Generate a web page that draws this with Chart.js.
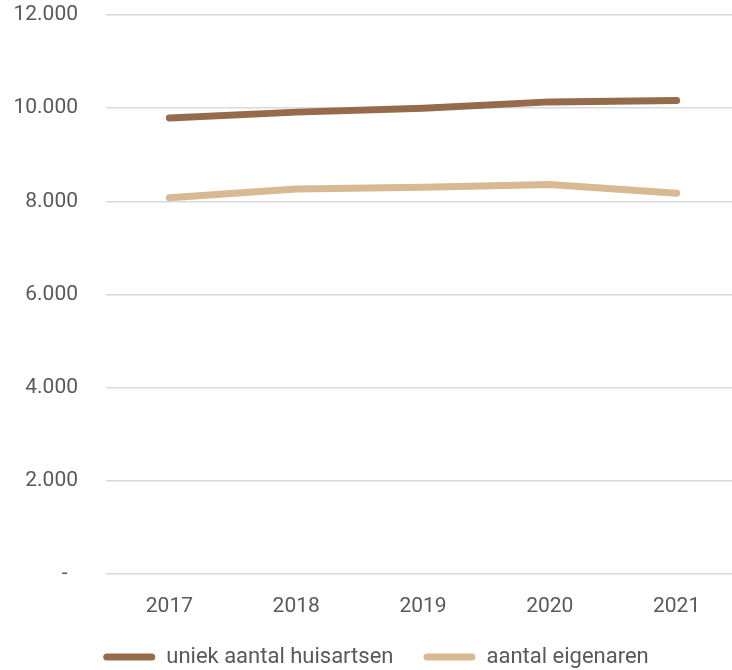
<!DOCTYPE html>
<html>
<head>
<meta charset="utf-8">
<script src="https://cdn.jsdelivr.net/npm/chart.js@4/dist/chart.umd.min.js"></script>
<style>
  html, body { margin: 0; padding: 0; background: #fff; overflow: hidden; }
  #wrap { width: 740px; height: 670px; position: relative; }
</style>
</head>
<body>
<div id="wrap"><canvas id="myChart"></canvas></div>
<script>
// jaren en waarden
const years = ['2017', '2018', '2019', '2020', '2021'];
const huisartsen = [9790, 9915, 10000, 10135, 10165];
const eigenaren = [8075, 8265, 8305, 8360, 8175];
const seriesNames = ['uniek aantal huisartsen', 'aantal eigenaren'];

const yMin = 0;
const yMax = 12000;
const yStep = 2000;

const textColor = '#595959';
const fontFamily = 'Roboto, "Open Sans", sans-serif';

// 12000 -> "12.000", 0 -> "-"
function formatTick(value) {
    if (value === 0) return '-  ';
    return String(value).replace(/\B(?=(\d{3})+(?!\d))/g, '.');
}

let chartContext = document.getElementById('myChart').getContext('2d');

let myChart = new Chart(chartContext, {
    type: 'line',
    data: {
        labels: years,
        datasets: [{
            label: seriesNames[0],
            data: huisartsen,
            borderColor: '#956b4b',
            backgroundColor: '#956b4b',
            borderWidth: 7,
            borderCapStyle: 'round',
            borderJoinStyle: 'round',
            pointRadius: 0,
            tension: 0
        }, {
            label: seriesNames[1],
            data: eigenaren,
            borderColor: '#d8b993',
            backgroundColor: '#d8b993',
            borderWidth: 7,
            borderCapStyle: 'round',
            borderJoinStyle: 'round',
            pointRadius: 0,
            tension: 0
        }]
    },
    options: {
        responsive: true,
        maintainAspectRatio: false,
        animation: false,
        layout: {
            padding: { left: 12, right: 0, top: 0, bottom: -8 }
        },
        plugins: {
            tooltip: { enabled: false },
            legend: {
                position: 'bottom',
                labels: {
                    color: textColor,
                    font: { family: fontFamily, size: 22 },
                    boxWidth: 52,
                    boxHeight: 7,
                    padding: 30,
                    useBorderRadius: true,
                    borderRadius: 3.5,
                    // geen rand om het legendablokje, alleen de vulling
                    generateLabels: (chart) => Chart.defaults.plugins.legend.labels
                        .generateLabels(chart)
                        .map((item) => ({ ...item, lineWidth: 0 }))
                }
            }
        },
        scales: {
            x: {
                offset: true,
                grid: { display: false },
                border: { display: false },
                ticks: {
                    color: textColor,
                    font: { family: fontFamily, size: 21 },
                    padding: 12
                },
                afterFit: (scale) => { scale.height = 42; }
            },
            y: {
                min: yMin,
                max: yMax,
                grid: {
                    color: '#d9d9d9',
                    lineWidth: 1.5,
                    drawTicks: false
                },
                border: { display: false },
                ticks: {
                    stepSize: yStep,
                    color: textColor,
                    font: { family: fontFamily, size: 21 },
                    padding: 28,
                    callback: formatTick
                },
                afterFit: (scale) => {
                    scale.width = 94;
                    scale.paddingTop = 15;
                    scale.paddingBottom = 0;
                }
            }
        }
    }
});
</script>
</body>
</html>
